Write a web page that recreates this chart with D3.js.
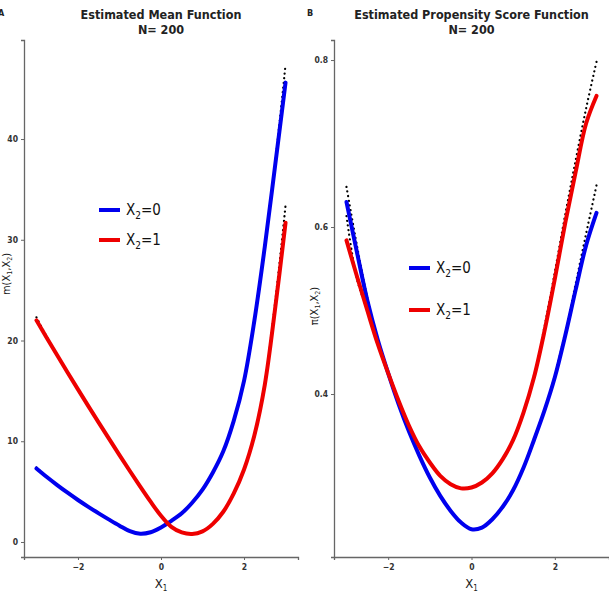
<!DOCTYPE html>
<html><head><meta charset="utf-8">
<script src="https://cdn.jsdelivr.net/npm/d3@7"></script>
<style>
body{margin:0;background:#fff;}
svg{display:block;}
text{font-family:"Liberation Sans Narrow","DejaVu Sans Condensed","Arial Narrow",Arial,sans-serif;}
</style></head>
<body><svg id="c" width="609" height="599"></svg>
<script>
// ---- data ----
const x1Grid = [-3,-2.75,-2.5,-2.25,-2,-1.75,-1.5,-1.25,-1,-0.75,-0.5,-0.25,0,
                0.25,0.5,0.75,1,1.25,1.5,1.75,2,2.25,2.5,2.75,3];
// Panel A: mean function
const meanEst0  = [7.3,6.45,5.65,4.89,4.17,3.49,2.84,2.22,1.62,1.07,0.82,0.97,1.45,
                   2.1,2.85,3.9,5.2,6.9,9.0,12.0,16.0,22.0,29.3,37.4,45.6];
const meanEst1  = [22.0,20.25,18.53,16.83,15.15,13.49,11.85,10.23,8.63,7.05,5.5,4.0,2.6,
                   1.5,0.95,0.8,1.05,1.8,3.0,4.8,7.2,10.6,15.6,23.2,31.7];
const meanTrue0 = [7.4,6.45,5.65,4.89,4.17,3.49,2.84,2.22,1.62,1.07,0.82,0.97,1.45,
                   2.1,2.85,3.9,5.2,6.9,9.0,12.0,16.0,22.0,29.3,37.6,47.4];
const meanTrue1 = [22.3,20.35,18.53,16.83,15.15,13.49,11.85,10.23,8.63,7.05,5.5,4.0,2.6,
                   1.5,0.95,0.8,1.05,1.8,3.0,4.8,7.2,10.6,15.8,23.8,33.4];
// Panel B: propensity score function
const psEst0  = [0.630,0.570,0.512,0.465,0.425,0.388,0.355,0.326,0.300,0.278,0.260,0.246,0.238,
                 0.240,0.250,0.265,0.285,0.312,0.345,0.380,0.420,0.470,0.525,0.578,0.617];
const psEst1  = [0.584,0.541,0.500,0.460,0.425,0.392,0.362,0.337,0.318,0.302,0.292,0.287,0.288,
                 0.294,0.305,0.322,0.345,0.378,0.420,0.475,0.538,0.605,0.666,0.724,0.757];
const psTrue0 = [0.648,0.578,0.515,0.465,0.425,0.388,0.355,0.326,0.300,0.278,0.260,0.246,0.238,
                 0.240,0.250,0.265,0.285,0.312,0.345,0.380,0.422,0.474,0.532,0.592,0.650];
const psTrue1 = [0.613,0.538,0.500,0.460,0.425,0.392,0.362,0.337,0.318,0.302,0.292,0.287,0.288,
                 0.294,0.305,0.322,0.345,0.378,0.422,0.480,0.546,0.615,0.680,0.742,0.798];
const xTicks = [-2,0,2];
const meanTicks = [0,10,20,30,40];
const psTicks = [0.4,0.6,0.8];
const legendLabels = ["0","1"];
const seriesColors = ["#0000ee","#ee0000"];

const svg = d3.select("#c");

function panel(opt){
  const x = d3.scaleLinear().domain([-3.3,3.3]).range([opt.x0,opt.x1]);
  const y = d3.scaleLinear().domain(opt.ydom).range([557,40]);
  const g = svg.append("g");
  const gx = g.append("g").attr("transform","translate(0,557)")
    .call(d3.axisBottom(x).tickValues(xTicks).tickSize(3).tickPadding(4).tickFormat(d3.format("d")));
  const gy = g.append("g").attr("transform",`translate(${opt.x0},0)`)
    .call(d3.axisLeft(y).tickValues(opt.ticks).tickSize(3).tickPadding(3).tickFormat(opt.fmt));
  [gx,gy].forEach(a=>{
    a.select(".domain").attr("stroke","#666").attr("stroke-width",1.3);
    a.selectAll(".tick line").attr("stroke","#666");
    a.selectAll(".tick text").attr("fill","#333").attr("font-weight","bold").attr("font-size",8.5);
  });
  const line = d3.line().x((d,i)=>x(x1Grid[i])).y(d=>y(d)).curve(d3.curveCatmullRom.alpha(0.5));
  opt.trues.forEach(arr=>{
    g.append("path").attr("d",line(arr)).attr("fill","none").attr("stroke","#000")
      .attr("stroke-width",2.2).attr("stroke-linecap","round").attr("stroke-dasharray","0.1,4.6");
  });
  opt.ests.forEach((arr,k)=>{
    g.append("path").attr("d",line(arr)).attr("fill","none").attr("stroke",seriesColors[k])
      .attr("stroke-width",4).attr("stroke-linecap","round");
  });
  const cx = (opt.x0+opt.x1)/2;
  g.append("text").attr("x",cx).attr("y",19).attr("text-anchor","middle")
    .attr("font-weight","bold").attr("font-size",12.5).attr("fill","#222").text(opt.title);
  g.append("text").attr("x",cx).attr("y",34).attr("text-anchor","middle")
    .attr("font-weight","bold").attr("font-size",12.5).attr("fill","#222").text("N= 200");
  const xt = g.append("text").attr("x",cx).attr("y",588).attr("text-anchor","middle")
    .attr("font-size",13).attr("fill","#222");
  xt.append("tspan").text("X");
  xt.append("tspan").attr("font-size",8).attr("dy",3).text("1");
  const yt = g.append("text").attr("transform",`translate(${opt.ytx},${opt.yty}) rotate(-90)`)
    .attr("text-anchor","middle").attr("font-size",11).attr("fill","#222");
  yt.append("tspan").text(opt.yname+"(X");
  yt.append("tspan").attr("font-size",7).attr("dy",2).text("1");
  yt.append("tspan").attr("dy",-2).text(",X");
  yt.append("tspan").attr("font-size",7).attr("dy",2).text("2");
  yt.append("tspan").attr("dy",-2).text(")");
  legendLabels.forEach((lab,k)=>{
    const ly = opt.legY[k];
    g.append("line").attr("x1",opt.legX).attr("x2",opt.legX+21).attr("y1",ly).attr("y2",ly)
      .attr("stroke",seriesColors[k]).attr("stroke-width",4);
    const t = g.append("text").attr("x",opt.legX+27).attr("y",ly+5).attr("font-size",15).attr("fill","#111");
    t.append("tspan").text("X");
    t.append("tspan").attr("font-size",10).attr("dy",4).text("2");
    t.append("tspan").attr("dy",-4).text("="+lab);
  });
  g.append("text").attr("x",opt.tagX).attr("y",16).attr("font-weight","bold").attr("font-size",9)
    .attr("fill","#222").text(opt.tag);
}

panel({x0:24,x1:298,ydom:[-1.49,49.83],ticks:meanTicks,fmt:d3.format("d"),
  ests:[meanEst0,meanEst1],trues:[meanTrue0,meanTrue1],title:"Estimated Mean Function",
  yname:"m",ytx:10,yty:274,legX:99,legY:[210,240],tag:"A",tagX:-2});
panel({x0:334,x1:609,ydom:[0.2048,0.824],ticks:psTicks,fmt:d3.format(".1f"),
  ests:[psEst0,psEst1],trues:[psTrue0,psTrue1],title:"Estimated Propensity Score Function",
  yname:"\u03c0",ytx:318,yty:306,legX:409,legY:[268,310],tag:"B",tagX:307});
</script></body></html>
